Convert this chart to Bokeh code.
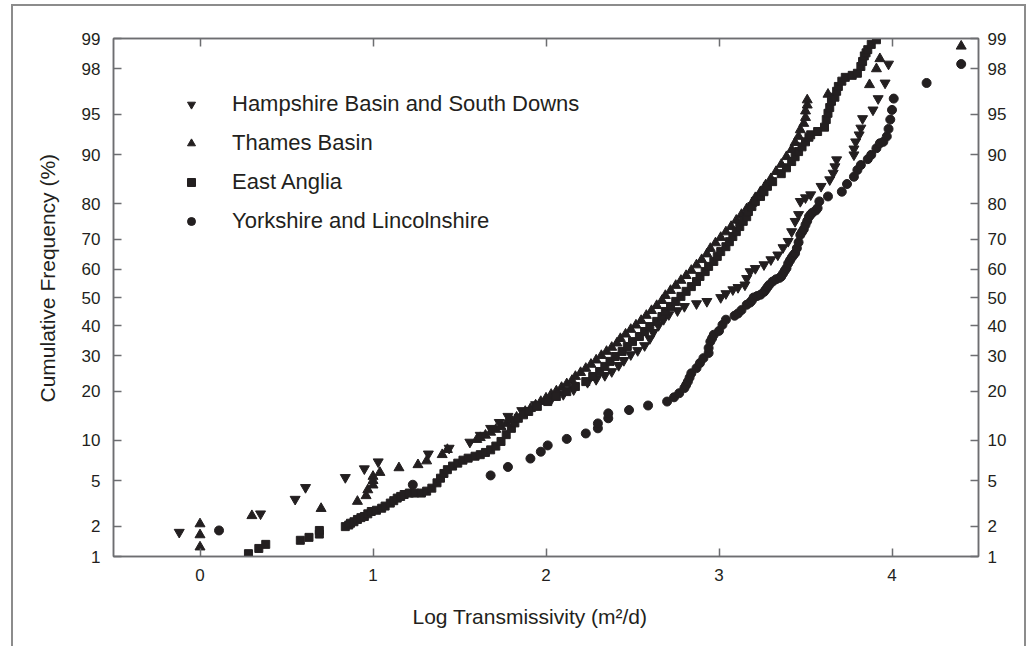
from statistics import NormalDist
from bokeh.plotting import figure
from bokeh.models import (Range1d, LinearAxis, FixedTicker, CustomJSTickFormatter, Title)
from bokeh.embed import file_html
from bokeh.resources import INLINE

# ---------------- data (log T, cumulative %) ----------------
hamp_x = [-0.12, 0.35, 0.55, 0.61, 0.84, 0.95, 1.03, 1.32, 1.44, 1.56, 1.62, 1.68, 1.73, 1.78,
          1.86, 1.94, 2.03, 2.10, 2.16, 2.24, 2.29, 2.34, 2.38, 2.42, 2.45, 2.49, 2.53, 2.57,
          2.60, 2.62, 2.65, 2.68, 2.71, 2.76, 2.80, 2.87, 2.93, 3.01, 3.04, 3.08, 3.11, 3.15,
          3.16, 3.18, 3.21, 3.26, 3.30, 3.34, 3.37, 3.40, 3.42, 3.44, 3.46, 3.47, 3.50, 3.53,
          3.59, 3.64, 3.66, 3.67, 3.68, 3.78, 3.78, 3.79, 3.81, 3.82, 3.83, 3.89, 3.92, 3.96, 3.98]
hamp_p = [1.75, 2.6, 3.5, 4.4, 5.3, 6.2, 7.0, 8.0, 8.8, 9.7, 10.8, 12.0, 13.1, 14.3,
          15.5, 16.8, 18.0, 19.2, 20.4, 22.3, 23.1, 24.2, 25.3, 27.1, 28.6, 30.4, 31.7, 33.3,
          35.6, 37.7, 40.1, 42.2, 43.9, 45.3, 46.8, 47.8, 48.6, 50.0, 51.4, 52.8, 53.6, 54.5,
          56.8, 59.2, 60.3, 61.6, 63.3, 64.9, 67.3, 69.3, 72.3, 75.3, 77.2, 80.6, 81.5, 82.2,
          84.1, 85.5, 86.8, 88.0, 89.2, 90.0, 90.9, 91.9, 92.8, 93.6, 94.6, 95.4, 96.3, 97.3, 98.2]

tham_x = [0.00, 0.00, 0.00, 0.30, 0.70, 0.91, 0.96, 0.97, 1.00, 1.00, 1.00, 1.04, 1.15, 1.26,
          1.31, 1.40, 1.43, 1.60, 1.62, 1.65, 1.68, 1.71, 1.74, 1.77, 1.80, 1.83, 1.86, 1.88,
          1.91, 1.94, 1.97, 2.00, 2.03, 2.06, 2.09, 2.12, 2.15, 2.17, 2.20, 2.23, 2.26, 2.29,
          2.32, 2.35, 2.38, 2.41, 2.43, 2.46, 2.49, 2.52, 2.55, 2.58, 2.61, 2.64, 2.67, 2.69,
          2.72, 2.75, 2.78, 2.81, 2.84, 2.87, 2.90, 2.93, 2.95, 2.98, 3.01, 3.04, 3.07, 3.10,
          3.13, 3.16, 3.19, 3.21, 3.24, 3.27, 3.30, 3.33, 3.36, 3.39, 3.42, 3.44, 3.46, 3.47,
          3.49, 3.50, 3.50, 3.51, 3.51, 3.63, 3.87, 3.91, 3.93, 4.40]
tham_p = [1.25, 1.65, 2.1, 2.5, 2.9, 3.35, 3.75, 4.2, 4.6, 5.0, 5.4, 5.8, 6.3, 6.65,
          7.1, 7.9, 8.6, 10.1, 10.4, 10.8, 11.3, 11.8, 12.3, 12.9, 13.5, 14.1, 14.7, 15.3,
          15.9, 16.7, 17.5, 18.3, 19.2, 20.05, 20.95, 21.9, 22.8, 23.9, 25.0, 26.2, 27.4, 28.7,
          30.1, 31.4, 32.7, 34.1, 35.6, 37.1, 38.7, 40.2, 41.8, 43.6, 45.3, 47.1, 48.9, 50.7,
          52.5, 54.3, 56.1, 57.8, 59.6, 61.5, 63.3, 65.2, 67.0, 68.8, 70.5, 72.2, 73.8, 75.6,
          77.2, 78.7, 80.1, 81.5, 82.9, 84.4, 85.7, 87.1, 88.4, 89.7, 90.8, 91.8, 92.6, 93.4,
          94.1, 94.7, 95.3, 95.8, 96.2, 96.6, 97.2, 98.0, 98.4, 98.8]

east_x = [0.28, 0.34, 0.38, 0.58, 0.63, 0.69, 0.69, 0.84, 0.86, 0.87, 0.89, 0.91, 0.93, 0.95,
          0.97, 0.99, 1.02, 1.05, 1.07, 1.10, 1.12, 1.14, 1.16, 1.18, 1.21, 1.24, 1.28, 1.31,
          1.34, 1.37, 1.39, 1.41, 1.43, 1.46, 1.49, 1.52, 1.55, 1.59, 1.62, 1.65, 1.68, 1.71,
          1.74, 1.77, 1.80, 1.82, 1.84, 1.87, 1.90, 1.95, 2.01, 2.06, 2.12, 2.17, 2.23, 2.27,
          2.31, 2.34, 2.37, 2.40, 2.44, 2.47, 2.50, 2.54, 2.57, 2.60, 2.64, 2.67, 2.69, 2.72,
          2.75, 2.78, 2.81, 2.84, 2.87, 2.89, 2.92, 2.94, 2.97, 2.99, 3.01, 3.04, 3.06, 3.08,
          3.10, 3.12, 3.14, 3.16, 3.17, 3.19, 3.21, 3.24, 3.26, 3.28, 3.31, 3.36, 3.39, 3.42,
          3.44, 3.46, 3.48, 3.50, 3.52, 3.53, 3.57, 3.61, 3.62, 3.63, 3.64, 3.65, 3.67, 3.68,
          3.69, 3.71, 3.73, 3.77, 3.80, 3.82, 3.83, 3.84, 3.85, 3.86, 3.88, 3.91, 3.93]
east_p = [1.07, 1.21, 1.33, 1.46, 1.56, 1.68, 1.82, 1.98, 2.05, 2.13, 2.2, 2.31, 2.4, 2.46,
          2.6, 2.73, 2.8, 2.92, 3.05, 3.24, 3.4, 3.58, 3.7, 3.84, 3.95, 3.95, 3.95, 4.1,
          4.34, 4.8, 5.23, 5.7, 6.1, 6.5, 6.84, 7.2, 7.45, 7.7, 7.9, 8.2, 8.56, 9.1,
          9.8, 10.9, 12.0, 13.0, 13.9, 14.6, 15.3, 16.4, 17.5, 18.7, 19.9, 21.2, 22.5, 23.9,
          25.3, 26.8, 28.3, 29.8, 31.4, 33.0, 34.6, 36.3, 38.0, 39.7, 41.5, 43.2, 45.0, 46.8,
          48.6, 50.4, 52.2, 53.9, 55.7, 57.5, 59.2, 61.0, 62.7, 64.4, 66.0, 67.6, 69.2, 70.8,
          72.3, 73.8, 75.3, 76.6, 78.0, 79.3, 80.6, 81.8, 82.9, 84.1, 85.1, 86.7, 87.8, 88.9,
          89.7, 90.5, 91.2, 91.9, 92.5, 92.8, 93.2, 93.7, 94.5, 95.1, 95.6, 96.1, 96.4, 96.8,
          97.1, 97.4, 97.6, 97.7, 97.8, 98.1, 98.3, 98.5, 98.6, 98.7, 98.85, 98.97, 99.2]

york_x = [0.11, 1.23, 1.68, 1.78, 1.91, 1.97, 2.01, 2.12, 2.23, 2.30, 2.30, 2.36, 2.36, 2.48,
          2.59, 2.70, 2.74, 2.77, 2.80, 2.81, 2.82, 2.83, 2.84, 2.87, 2.89, 2.91, 2.94, 2.94,
          2.95, 2.96, 2.97, 3.00, 3.02, 3.04, 3.09, 3.11, 3.13, 3.16, 3.18, 3.19, 3.20, 3.22,
          3.24, 3.26, 3.27, 3.28, 3.29, 3.31, 3.33, 3.35, 3.36, 3.37, 3.38, 3.39, 3.40, 3.41,
          3.42, 3.43, 3.44, 3.45, 3.46, 3.47, 3.48, 3.49, 3.50, 3.51, 3.52, 3.53, 3.54, 3.56,
          3.57, 3.58, 3.63, 3.71, 3.74, 3.78, 3.80, 3.82, 3.86, 3.88, 3.91, 3.93, 3.95, 3.97,
          3.98, 3.99, 4.00, 4.01, 4.20, 4.40]
york_p = [1.82, 4.63, 5.5, 6.4, 7.4, 8.3, 9.2, 10.2, 11.1, 12.0, 12.9, 13.9, 14.9, 15.6,
          16.6, 17.5, 18.5, 19.5, 20.8, 21.6, 22.5, 23.6, 24.8, 26.3, 27.8, 29.3, 30.9, 32.5,
          34.6, 35.7, 36.9, 38.2, 40.3, 42.1, 43.5, 44.3, 45.5, 47.4, 48.2, 48.9, 50.0, 50.5,
          51.0, 52.0, 52.8, 53.7, 54.5, 55.7, 56.5, 57.0, 57.5, 58.5, 59.5, 60.4, 62.0, 63.0,
          64.0, 64.8, 65.5, 67.1, 69.0, 71.3, 72.2, 73.0, 74.3, 75.4, 76.6, 77.2, 77.7, 78.3,
          78.9, 80.6, 81.8, 82.9, 84.6, 86.1, 87.4, 88.3, 89.3, 90.0, 91.0, 91.7, 91.9, 92.6,
          93.5, 94.5, 95.4, 96.3, 97.3, 98.2]

y_tick_pct = [1, 2, 5, 10, 20, 30, 40, 50, 60, 70, 80, 90, 95, 98, 99]
x_ticks = [0, 1, 2, 3, 4]

series_names = ["Hampshire Basin and South Downs", "Thames Basin", "East Anglia",
                "Yorkshire and Lincolnshire"]

# ---------------- helpers ----------------
nd = NormalDist()


def probit(pct):
    return nd.inv_cdf(pct / 100.0)


FONT = "Liberation Sans"
TXT = "#231f20"
MK = "#231f20"
AX = "#6d6e71"

p = figure(width=1015, height=642,
           x_range=Range1d(-0.5, 4.5),
           y_range=Range1d(probit(1), probit(99)),
           output_backend="svg", toolbar_location=None,
           min_border_left=100, min_border_right=50,
           min_border_top=32, min_border_bottom=92,
           background_fill_color="white", border_fill_color="white")
p.styles = {"margin-left": "11px", "margin-top": "4px",
            "border-left": "2px solid #8c8c8c",
            "border-top": "2px solid #8c8c8c",
            "border-right": "2px solid #8c8c8c"}

p.xgrid.visible = False
p.ygrid.visible = False
p.outline_line_color = AX
p.outline_line_width = 1.5

yt = [probit(v) for v in y_tick_pct]
yl = [str(v) for v in y_tick_pct]
y_fmt_code = """
let best = 0, bd = Infinity;
for (let i = 0; i < tv.length; i++) {
  const d = Math.abs(tv[i] - tick);
  if (d < bd) { bd = d; best = i; }
}
return tl[best];
"""


def style_axis(ax, standoff):
    ax.axis_line_color = AX
    ax.axis_line_width = 1.5
    ax.major_tick_line_color = AX
    ax.major_tick_line_width = 1.5
    ax.major_tick_in = 8
    ax.major_tick_out = 0
    ax.minor_tick_in = 0
    ax.minor_tick_out = 0
    ax.major_label_standoff = standoff
    ax.major_label_text_font = FONT
    ax.major_label_text_font_size = "17px"
    ax.major_label_text_color = TXT


# bottom x axis
xa = p.xaxis[0]
xa.ticker = FixedTicker(ticks=x_ticks)
style_axis(xa, 12)

# left y axis
ya = p.yaxis[0]
ya.ticker = FixedTicker(ticks=yt)
ya.formatter = CustomJSTickFormatter(args=dict(tv=yt, tl=yl), code=y_fmt_code)
style_axis(ya, 13)

# right y axis
yr = LinearAxis(ticker=FixedTicker(ticks=yt),
                formatter=CustomJSTickFormatter(args=dict(tv=yt, tl=yl), code=y_fmt_code))
style_axis(yr, 9)
p.add_layout(yr, "right")

# top x axis (ticks only)
xt = LinearAxis(ticker=FixedTicker(ticks=x_ticks),
                formatter=CustomJSTickFormatter(code="return '';"))
style_axis(xt, 2)
xt.major_label_text_font_size = "1px"
p.add_layout(xt, "above")

# ---------------- markers ----------------
p.scatter(hamp_x, [probit(v) for v in hamp_p], marker="inverted_triangle",
          size=10, color=MK, legend_label=series_names[0])
p.scatter(tham_x, [probit(v) for v in tham_p], marker="triangle",
          size=10, color=MK, legend_label=series_names[1])
p.scatter(east_x, [probit(v) for v in east_p], marker="square",
          size=8, color=MK, legend_label=series_names[2])
p.scatter(york_x, [probit(v) for v in york_p], marker="circle",
          size=9, color=MK, legend_label=series_names[3])

lg = p.legend[0]
lg.location = (68, 322)
lg.padding = 0
lg.margin = 0
lg.spacing = 13
lg.glyph_width = 20
lg.glyph_height = 20
lg.label_height = 20
lg.label_standoff = 31
lg.label_text_font = FONT
lg.label_text_font_size = "22px"
lg.label_text_color = TXT
lg.border_line_alpha = 0
lg.background_fill_alpha = 0

# ---------------- axis titles ----------------
x_title = Title(text="Log Transmissivity (m²/d)", align="left", offset=299,
                standoff=38, text_font=FONT, text_font_size="21px",
                text_font_style="normal", text_color=TXT)
y_title = Title(text="Cumulative Frequency (%)", align="left", offset=154,
                standoff=39, text_font=FONT, text_font_size="21px",
                text_font_style="normal", text_color=TXT)
p.add_layout(x_title, "below")
p.add_layout(y_title, "left")

open("out.html", "w").write(file_html(p, INLINE))
